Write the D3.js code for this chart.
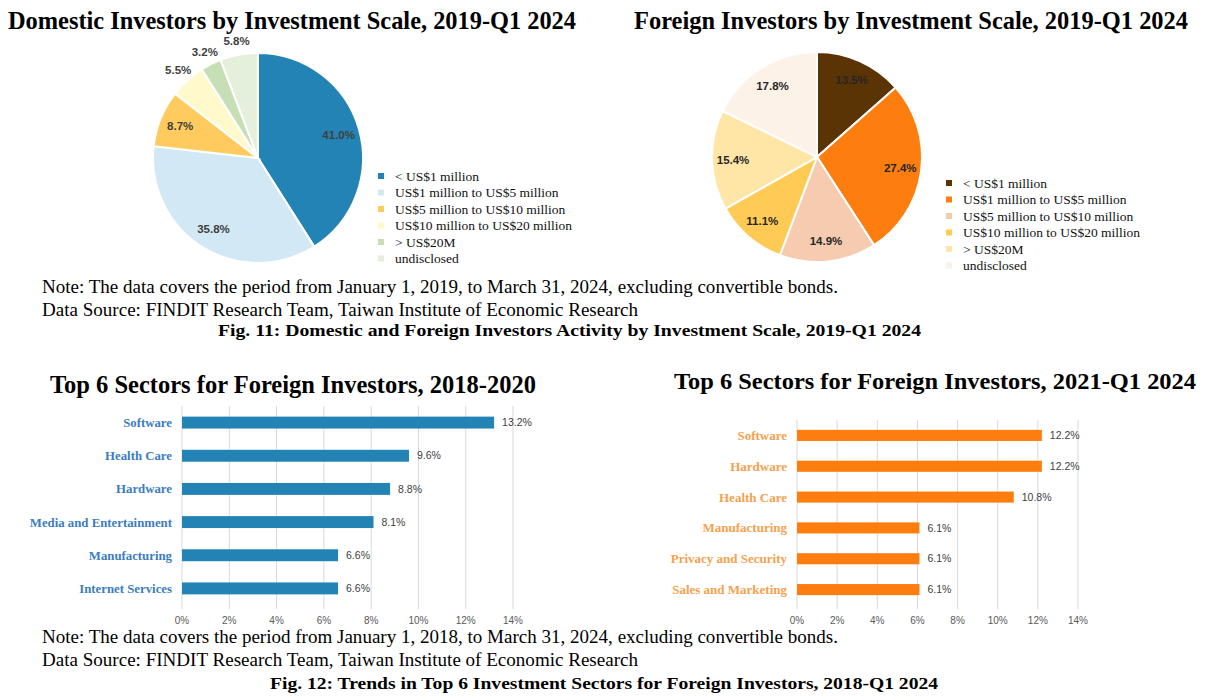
<!DOCTYPE html>
<html>
<head>
<meta charset="utf-8">
<script src="https://cdn.jsdelivr.net/npm/d3@7"></script>
<style>
  body { margin: 0; background: #fff; }
  svg { display: block; }
</style>
</head>
<body>
<div id="container"></div>
<script>
// investment scale categories (pie charts)
var scaleCats = ["< US$1 million", "US$1 million to US$5 million", "US$5 million to US$10 million",
                 "US$10 million to US$20 million", "> US$20M", "undisclosed"];
var domesticShare = [41.0, 35.8, 8.7, 5.5, 3.2, 5.8];
var foreignShare = [13.5, 27.4, 14.9, 11.1, 15.4, 17.8];

// top 6 sectors (bar charts)
var sectors1820 = ["Software", "Health Care", "Hardware", "Media and Entertainment", "Manufacturing", "Internet Services"];
var share1820 = [13.2, 9.6, 8.8, 8.1, 6.6, 6.6];
var sectors21q1 = ["Software", "Hardware", "Health Care", "Manufacturing", "Privacy and Security", "Sales and Marketing"];
var share21q1 = [12.2, 12.2, 10.8, 6.1, 6.1, 6.1];
var xTicks = [0, 2, 4, 6, 8, 10, 12, 14];

var domesticColors = ["#2283b4", "#d2e9f5", "#ffcb5e", "#fff9cc", "#c6dfb4", "#e4f0dc"];
var foreignColors = ["#5b3406", "#fd7e0e", "#f6cbb0", "#ffcb55", "#ffe6a6", "#fdf2e8"];

var serif = "'Liberation Serif', 'Times New Roman', serif";
var sans = "'Liberation Sans', Arial, sans-serif";

var svg = d3.select("#container").append("svg")
    .attr("width", 1206)
    .attr("height", 696);

// plain text helper, textLength squeezes to the reference width
function addText(x, y, str, size, bold, len, anchor) {
  var t = svg.append("text")
    .attr("x", x)
    .attr("y", y)
    .attr("font-family", serif)
    .attr("font-size", size)
    .attr("font-weight", bold ? "bold" : "normal")
    .attr("fill", "#000")
    .attr("text-anchor", anchor || "start")
    .text(str);
  if (len) {
    t.attr("textLength", len).attr("lengthAdjust", "spacingAndGlyphs");
  }
  return t;
}

// titles and notes
addText(8, 29, "Domestic Investors by Investment Scale, 2019-Q1 2024", 25, true, 568);
addText(634, 29, "Foreign Investors by Investment Scale, 2019-Q1 2024", 25, true, 554);
addText(42, 293, "Note: The data covers the period from January 1, 2019, to March 31, 2024, excluding convertible bonds.", 18, false, 796);
addText(42, 316, "Data Source: FINDIT Research Team, Taiwan Institute of Economic Research", 18, false, 596);
addText(218, 336, "Fig. 11: Domestic and Foreign Investors Activity by Investment Scale, 2019-Q1 2024", 16.5, true, 703);
addText(50, 393, "Top 6 Sectors for Foreign Investors, 2018-2020", 25, true, 486);
addText(674, 389, "Top 6 Sectors for Foreign Investors, 2021-Q1 2024", 24, true, 522);
addText(42, 643, "Note: The data covers the period from January 1, 2018, to March 31, 2024, excluding convertible bonds.", 18, false, 796);
addText(42, 666, "Data Source: FINDIT Research Team, Taiwan Institute of Economic Research", 18, false, 596);
addText(270, 689, "Fig. 12: Trends in Top 6 Investment Sectors for Foreign Investors, 2018-Q1 2024", 16.5, true, 668);

// pie chart + legend
function drawPie(cx, cy, radius, values, colors, labelColor, legendX, legendY) {
  var g = svg.append("g").attr("transform", "translate(" + cx + "," + cy + ")");
  var pie = d3.pie().sort(null).value(function(d) { return d; });
  var arcs = pie(values);
  var arc = d3.arc().innerRadius(0).outerRadius(radius);
  var inLabel = d3.arc().innerRadius(radius * 0.8).outerRadius(radius * 0.8);
  var outLabel = d3.arc().innerRadius(radius * 1.13).outerRadius(radius * 1.13);

  g.selectAll("path").data(arcs).enter()
    .append("path")
    .attr("d", arc)
    .style("fill", function(d, i) { return colors[i]; })
    .style("stroke", "#fff")
    .style("stroke-width", 2);

  g.selectAll("text").data(arcs).enter()
    .append("text")
    .attr("transform", function(d) {
      var p = d.data < 6 ? outLabel.centroid(d) : inLabel.centroid(d);
      return "translate(" + p[0] + "," + p[1] + ")";
    })
    .attr("dy", "0.35em")
    .attr("text-anchor", "middle")
    .attr("font-family", sans)
    .attr("font-size", 11.5)
    .attr("font-weight", "bold")
    .attr("fill", labelColor)
    .text(function(d) { return d3.format(".1f")(d.data) + "%"; });

  var legend = svg.append("g").attr("transform", "translate(" + legendX + "," + legendY + ")");
  legend.selectAll("rect").data(scaleCats).enter()
    .append("rect")
    .attr("x", 0)
    .attr("y", function(d, i) { return i * 16.5 - 3; })
    .attr("width", 6)
    .attr("height", 6)
    .style("fill", function(d, i) { return colors[i]; });
  legend.selectAll("text").data(scaleCats).enter()
    .append("text")
    .attr("x", 17)
    .attr("y", function(d, i) { return i * 16.5; })
    .attr("dy", "0.35em")
    .attr("font-family", serif)
    .attr("font-size", 13.5)
    .attr("fill", "#111")
    .text(function(d) { return d; });
}

drawPie(258, 158, 105, domesticShare, domesticColors, "#404040", 378, 176);
drawPie(817, 157, 105, foreignShare, foreignColors, "#262626", 946, 183);

// horizontal bar chart
function drawBars(cats, values, x0, x1, y0, y1, barColor, catColor, catSize) {
  var x = d3.scaleLinear().domain([0, 14]).range([x0, x1]);
  var y = d3.scaleBand().domain(cats).range([y0, y1]).paddingInner(0.64).paddingOuter(0.32);
  var g = svg.append("g");

  g.selectAll("line.grid").data(xTicks).enter()
    .append("line")
    .attr("class", "grid")
    .attr("x1", function(d) { return x(d); })
    .attr("x2", function(d) { return x(d); })
    .attr("y1", y0)
    .attr("y2", y1 + 4)
    .style("stroke", "#d9d9d9")
    .style("stroke-width", 1);

  g.selectAll("text.tick").data(xTicks).enter()
    .append("text")
    .attr("class", "tick")
    .attr("x", function(d) { return x(d); })
    .attr("y", y1 + 19)
    .attr("text-anchor", "middle")
    .attr("font-family", sans)
    .attr("font-size", 10)
    .attr("fill", "#595959")
    .text(function(d) { return d + "%"; });

  g.selectAll("rect").data(values).enter()
    .append("rect")
    .attr("x", x(0))
    .attr("y", function(d, i) { return y(cats[i]); })
    .attr("width", function(d) { return x(d) - x(0); })
    .attr("height", y.bandwidth())
    .style("fill", barColor);

  g.selectAll("text.val").data(values).enter()
    .append("text")
    .attr("class", "val")
    .attr("x", function(d) { return x(d) + 8; })
    .attr("y", function(d, i) { return y(cats[i]) + y.bandwidth() / 2; })
    .attr("dy", "0.35em")
    .attr("font-family", sans)
    .attr("font-size", 10.5)
    .attr("fill", "#404040")
    .text(function(d) { return d3.format(".1f")(d) + "%"; });

  g.selectAll("text.cat").data(cats).enter()
    .append("text")
    .attr("class", "cat")
    .attr("x", x0 - 10)
    .attr("y", function(d) { return y(d) + y.bandwidth() / 2; })
    .attr("dy", "0.35em")
    .attr("text-anchor", "end")
    .attr("font-family", serif)
    .attr("font-size", catSize)
    .attr("font-weight", "bold")
    .attr("fill", catColor)
    .text(function(d) { return d; });
}

drawBars(sectors1820, share1820, 182, 513, 406, 605, "#2283b4", "#3b7dc0", 12.8);
drawBars(sectors21q1, share21q1, 797, 1078, 420, 605, "#fd7e0e", "#f5a14e", 13);
</script>
</body>
</html>
